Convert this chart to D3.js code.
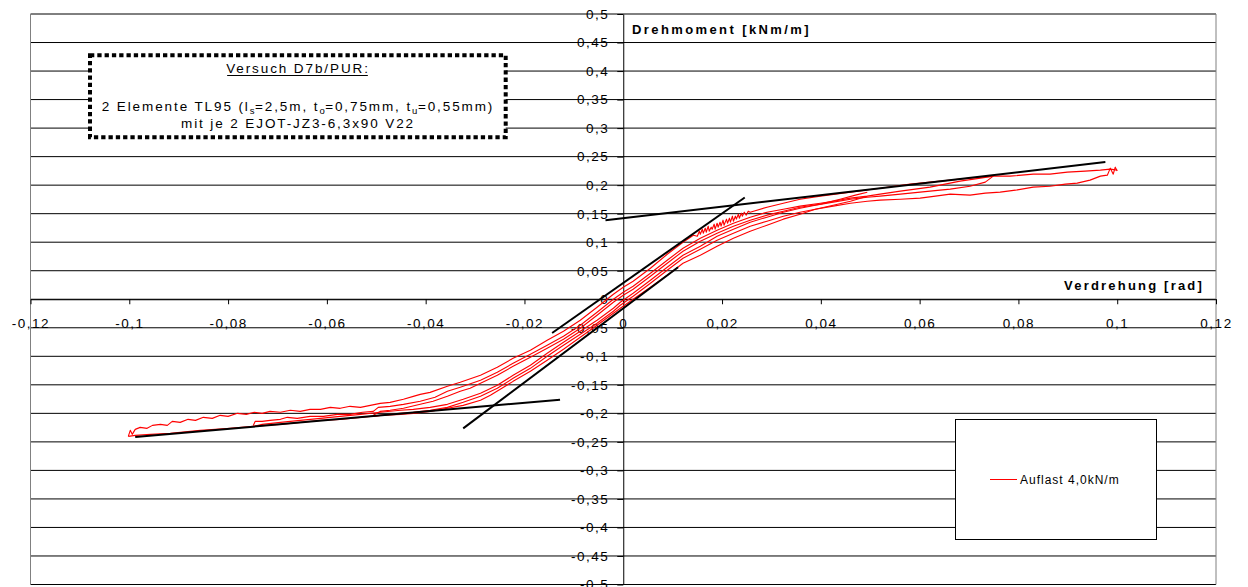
<!DOCTYPE html>
<html>
<head>
<meta charset="utf-8">
<script src="https://cdn.jsdelivr.net/npm/d3@7"></script>
<style>
  body { margin: 0; background: #fff; }
  svg { display: block; }
  text { font-family: "Liberation Sans", Arial, sans-serif; }
</style>
</head>
<body>
<svg id="chart" width="1248" height="587"></svg>
<script>
// Achsen: Verdrehung [rad] und Drehmoment [kNm/m]
const xTickValues = [-0.12, -0.1, -0.08, -0.06, -0.04, -0.02, 0, 0.02, 0.04, 0.06, 0.08, 0.1, 0.12];
const xTickLabels = ["-0,12", "-0,1", "-0,08", "-0,06", "-0,04", "-0,02", "0", "0,02", "0,04", "0,06", "0,08", "0,1", "0,12"];
const yTickValues = [0.5, 0.45, 0.4, 0.35, 0.3, 0.25, 0.2, 0.15, 0.1, 0.05, 0, -0.05, -0.1, -0.15, -0.2, -0.25, -0.3, -0.35, -0.4, -0.45, -0.5];
const yTickLabels = ["0,5", "0,45", "0,4", "0,35", "0,3", "0,25", "0,2", "0,15", "0,1", "0,05", "0", "-0,05", "-0,1", "-0,15", "-0,2", "-0,25", "-0,3", "-0,35", "-0,4", "-0,45", "-0,5"];

// Messkurven [Verdrehung, Drehmoment], Auflast 4,0 kN/m
// Wiederbelastung ab -0,1 rad bis +0,1 rad
const ast100Hin = [
  [-0.1002,-0.2404],[-0.0998,-0.2298],[-0.0994,-0.2368],[-0.0988,-0.2281],[-0.0978,-0.2246],
  [-0.0964,-0.2263],[-0.0953,-0.2211],[-0.0937,-0.2193],[-0.0923,-0.2211],[-0.0913,-0.2140],
  [-0.0897,-0.2158],[-0.0881,-0.2105],[-0.0866,-0.2123],[-0.0850,-0.2070],[-0.0832,-0.2088],
  [-0.0816,-0.2035],[-0.0800,-0.2053],[-0.0781,-0.2000],[-0.0763,-0.2018],[-0.0747,-0.1982],
  [-0.0731,-0.2000],[-0.0715,-0.1965],[-0.0694,-0.1982],[-0.0674,-0.1947],[-0.0654,-0.1965],
  [-0.0634,-0.1930],[-0.0613,-0.1930],[-0.0593,-0.1895],[-0.0573,-0.1912],[-0.0553,-0.1877],
  [-0.0532,-0.1895],[-0.0512,-0.1860],[-0.0492,-0.1825],[-0.0472,-0.1807],[-0.0445,-0.1754],
  [-0.0425,-0.1702],[-0.0411,-0.1667],[-0.0391,-0.1632],[-0.0356,-0.1526],[-0.0330,-0.1456],
  [-0.0289,-0.1333],[-0.0255,-0.1193],[-0.0223,-0.1035],[-0.0188,-0.0895],[-0.0154,-0.0719],
  [-0.0121,-0.0561],[-0.0087,-0.0368],[-0.0053,-0.0140],[-0.0020,0.0088],[0.0000,0.0211],
  [0.0020,0.0316],[0.0055,0.0544],[0.0089,0.0789],[0.0121,0.1000],[0.0142,0.1123],
  [0.0150,0.1105],[0.0154,0.1193],[0.0156,0.1140],[0.0160,0.1228],[0.0162,0.1158],
  [0.0166,0.1246],[0.0168,0.1175],[0.0172,0.1281],[0.0174,0.1193],[0.0178,0.1263],
  [0.0180,0.1228],[0.0184,0.1316],[0.0186,0.1228],[0.0190,0.1333],[0.0192,0.1263],
  [0.0196,0.1351],[0.0198,0.1281],[0.0202,0.1386],[0.0204,0.1298],[0.0209,0.1404],
  [0.0211,0.1333],[0.0215,0.1421],[0.0217,0.1351],[0.0221,0.1456],[0.0223,0.1368],
  [0.0227,0.1456],[0.0229,0.1404],[0.0233,0.1491],[0.0235,0.1421],[0.0239,0.1509],
  [0.0241,0.1456],[0.0245,0.1526],[0.0249,0.1474],[0.0253,0.1544],[0.0257,0.1526],
  [0.0291,0.1614],[0.0324,0.1684],[0.0358,0.1754],[0.0399,0.1807],[0.0460,0.1877],
  [0.0520,0.1947],[0.0581,0.2018],[0.0642,0.2070],[0.0702,0.2123],[0.0749,0.2158],
  [0.0783,0.2158],[0.0830,0.2193],[0.0864,0.2193],[0.0899,0.2228],[0.0935,0.2246],
  [0.0966,0.2263],[0.0986,0.2281],[0.1000,0.2263]
];
// Entlastung ab +0,1 rad bis -0,1 rad
const ast100Rueck = [
  [0.1000,0.2246],[0.0996,0.2316],[0.0992,0.2193],[0.0986,0.2298],[0.0980,0.2175],
  [0.0966,0.2158],[0.0945,0.2088],[0.0919,0.2035],[0.0895,0.2018],[0.0864,0.1982],
  [0.0830,0.1965],[0.0794,0.1912],[0.0763,0.1877],[0.0733,0.1860],[0.0702,0.1825],
  [0.0662,0.1842],[0.0632,0.1807],[0.0601,0.1772],[0.0561,0.1754],[0.0520,0.1737],
  [0.0494,0.1719],[0.0460,0.1684],[0.0425,0.1632],[0.0389,0.1579],[0.0358,0.1526],
  [0.0324,0.1456],[0.0291,0.1368],[0.0257,0.1281],[0.0223,0.1158],[0.0190,0.1035],
  [0.0156,0.0877],[0.0121,0.0719],[0.0089,0.0509],[0.0055,0.0281],[0.0020,0.0053],
  [-0.0006,-0.0105],[-0.0020,-0.0211],[-0.0053,-0.0421],[-0.0087,-0.0614],[-0.0121,-0.0807],
  [-0.0154,-0.1000],[-0.0188,-0.1211],[-0.0223,-0.1386],[-0.0255,-0.1561],[-0.0289,-0.1702],
  [-0.0324,-0.1807],[-0.0356,-0.1895],[-0.0391,-0.1947],[-0.0425,-0.1982],[-0.0451,-0.2000],
  [-0.0492,-0.2035],[-0.0532,-0.2070],[-0.0573,-0.2105],[-0.0613,-0.2123],[-0.0654,-0.2158],
  [-0.0694,-0.2193],[-0.0749,-0.2228],[-0.0796,-0.2263],[-0.0856,-0.2298],[-0.0917,-0.2351],
  [-0.0957,-0.2368],[-0.0988,-0.2386],[-0.1002,-0.2404]
];
// Wiederbelastung ab -0,075 rad bis +0,075 rad
const ast075Hin = [
  [-0.0749,-0.2211],[-0.0745,-0.2140],[-0.0731,-0.2140],[-0.0715,-0.2123],[-0.0694,-0.2105],
  [-0.0680,-0.2070],[-0.0660,-0.2088],[-0.0634,-0.2053],[-0.0607,-0.2053],[-0.0579,-0.2018],
  [-0.0553,-0.2018],[-0.0528,-0.1982],[-0.0506,-0.1965],[-0.0496,-0.1895],[-0.0472,-0.1877],
  [-0.0445,-0.1842],[-0.0411,-0.1789],[-0.0381,-0.1719],[-0.0356,-0.1614],[-0.0330,-0.1544],
  [-0.0289,-0.1421],[-0.0255,-0.1281],[-0.0223,-0.1123],[-0.0188,-0.0965],[-0.0154,-0.0807],
  [-0.0121,-0.0649],[-0.0087,-0.0456],[-0.0053,-0.0228],[-0.0020,0.0000],[0.0000,0.0123],
  [0.0020,0.0228],[0.0055,0.0456],[0.0089,0.0684],[0.0121,0.0895],[0.0156,0.1070],
  [0.0190,0.1211],[0.0223,0.1333],[0.0257,0.1439],[0.0291,0.1526],[0.0324,0.1579],
  [0.0358,0.1632],[0.0399,0.1684],[0.0425,0.1719],[0.0460,0.1772],[0.0494,0.1807],
  [0.0520,0.1842],[0.0561,0.1895],[0.0621,0.1965],[0.0682,0.2070],[0.0723,0.2123],
  [0.0749,0.2158]
];
// Entlastung ab +0,075 rad bis -0,075 rad
const ast075Rueck = [
  [0.0749,0.2158],[0.0733,0.2053],[0.0702,0.1982],[0.0662,0.1930],[0.0621,0.1895],
  [0.0561,0.1842],[0.0520,0.1807],[0.0494,0.1789],[0.0460,0.1754],[0.0425,0.1702],
  [0.0389,0.1649],[0.0358,0.1596],[0.0324,0.1526],[0.0291,0.1439],[0.0257,0.1351],
  [0.0223,0.1228],[0.0190,0.1105],[0.0156,0.0930],[0.0121,0.0772],[0.0089,0.0561],
  [0.0055,0.0333],[0.0020,0.0105],[-0.0006,-0.0053],[-0.0020,-0.0158],[-0.0053,-0.0368],
  [-0.0087,-0.0561],[-0.0121,-0.0754],[-0.0154,-0.0947],[-0.0188,-0.1158],[-0.0223,-0.1333],
  [-0.0255,-0.1509],[-0.0289,-0.1649],[-0.0324,-0.1754],[-0.0356,-0.1842],[-0.0391,-0.1895],
  [-0.0425,-0.1930],[-0.0451,-0.1947],[-0.0492,-0.1982],[-0.0532,-0.2018],[-0.0573,-0.2053],
  [-0.0613,-0.2088],[-0.0654,-0.2123],[-0.0694,-0.2158],[-0.0731,-0.2193],[-0.0749,-0.2228]
];
// Wiederbelastung ab -0,05 rad bis +0,05 rad
const ast050Hin = [
  [-0.0506,-0.2035],[-0.0492,-0.1965],[-0.0472,-0.1947],[-0.0445,-0.1912],[-0.0411,-0.1842],
  [-0.0385,-0.1789],[-0.0356,-0.1702],[-0.0330,-0.1614],[-0.0310,-0.1561],[-0.0289,-0.1474],
  [-0.0255,-0.1333],[-0.0223,-0.1175],[-0.0188,-0.1018],[-0.0154,-0.0860],[-0.0121,-0.0702],
  [-0.0087,-0.0509],[-0.0053,-0.0281],[-0.0020,-0.0053],[0.0000,0.0070],[0.0020,0.0175],
  [0.0055,0.0404],[0.0089,0.0632],[0.0121,0.0842],[0.0156,0.1018],[0.0190,0.1158],
  [0.0223,0.1281],[0.0257,0.1386],[0.0291,0.1474],[0.0324,0.1544],[0.0358,0.1614],
  [0.0399,0.1667],[0.0439,0.1754],[0.0470,0.1825],[0.0494,0.1877]
];
// Entlastung ab +0,05 rad bis -0,05 rad
const ast050Rueck = [
  [0.0494,0.1807],[0.0460,0.1719],[0.0425,0.1649],[0.0389,0.1579],[0.0358,0.1491],
  [0.0324,0.1404],[0.0291,0.1298],[0.0257,0.1193],[0.0223,0.1070],[0.0190,0.0930],
  [0.0156,0.0772],[0.0121,0.0632],[0.0089,0.0421],[0.0055,0.0211],[0.0020,0.0000],
  [-0.0006,-0.0158],[-0.0020,-0.0246],[-0.0053,-0.0456],[-0.0087,-0.0667],[-0.0121,-0.0877],
  [-0.0154,-0.1070],[-0.0188,-0.1263],[-0.0223,-0.1439],[-0.0249,-0.1579],[-0.0269,-0.1684],
  [-0.0289,-0.1772],[-0.0324,-0.1860],[-0.0356,-0.1912],[-0.0391,-0.1965],[-0.0425,-0.2000],
  [-0.0451,-0.2018],[-0.0492,-0.2035],[-0.0506,-0.2053]
];

// Tangenten (Steifigkeiten)
const tangenteObenFlach = [[-0.0036, 0.1386], [0.0976, 0.2404]];
const tangenteObenSteil = [[-0.0144, -0.0591], [0.0246, 0.1784]];
const tangenteUntenSteil = [[-0.0324, -0.2263], [0.0111, 0.0561]];
const tangenteUntenFlach = [[-0.0988, -0.2416], [-0.0128, -0.1760]];

const messkurven = [ast100Hin, ast100Rueck, ast075Hin, ast075Rueck, ast050Hin, ast050Rueck];
const tangenten = [tangenteObenFlach, tangenteObenSteil, tangenteUntenSteil, tangenteUntenFlach];

const svg = d3.select("#chart");
const x = d3.scaleLinear().domain([-0.12, 0.12]).range([30.5, 1216]);
const y = d3.scaleLinear().domain([-0.5, 0.5]).range([584.5, 14]);

// horizontale Gitterlinien
svg.append("g").selectAll("line").data(yTickValues).join("line")
  .attr("x1", x(-0.12)).attr("x2", x(0.12))
  .attr("y1", d => y(d)).attr("y2", d => y(d))
  .attr("stroke", "#000").attr("stroke-width", 1);

// seitliche Begrenzung der Zeichenfläche
svg.append("g").selectAll("line").data([-0.12, 0.12]).join("line")
  .attr("x1", d => x(d)).attr("x2", d => x(d))
  .attr("y1", y(0.5)).attr("y2", y(-0.5))
  .attr("stroke", "#808080").attr("stroke-width", 1);

// x-Achse durch den Nullpunkt
const xAxis = svg.append("g")
  .attr("transform", `translate(0,${y(0)})`)
  .call(d3.axisBottom(x).tickValues(xTickValues)
    .tickFormat((d, i) => xTickLabels[i]).tickSizeInner(5).tickSizeOuter(0).tickPadding(14));
// y-Achse durch den Nullpunkt
const yAxis = svg.append("g")
  .attr("transform", `translate(${x(0)},0)`)
  .call(d3.axisLeft(y).tickValues(yTickValues)
    .tickFormat((d, i) => yTickLabels[i]).tickSizeInner(6).tickSizeOuter(0).tickPadding(8));
[xAxis, yAxis].forEach(a => {
  a.attr("color", "#000");
  a.selectAll("text").attr("font-size", 13.5).attr("letter-spacing", 1.5)
    .attr("font-family", "'Liberation Sans', Arial, sans-serif");
});

// Achsentitel
svg.append("text").attr("x", 632).attr("y", 34)
  .attr("font-size", 13).attr("font-weight", "bold").attr("letter-spacing", 2.4)
  .text("Drehmoment [kNm/m]");
svg.append("text").attr("x", 1204).attr("y", 290).attr("text-anchor", "end")
  .attr("font-size", 13).attr("font-weight", "bold").attr("letter-spacing", 2.2)
  .text("Verdrehung [rad]");

const line = d3.line().x(d => x(d[0])).y(d => y(d[1]));

// Messkurven
svg.append("g").selectAll("path").data(messkurven).join("path")
  .attr("d", line).attr("fill", "none")
  .attr("stroke", "#ff0000").attr("stroke-width", 1.1).attr("stroke-linejoin", "round");

// Tangenten
svg.append("g").selectAll("path").data(tangenten).join("path")
  .attr("d", line).attr("fill", "none")
  .attr("stroke", "#000").attr("stroke-width", 2);

// Versuchsbeschreibung
const info = svg.append("g");
info.append("rect").attr("x", 90).attr("y", 55.3).attr("width", 415.7).attr("height", 82)
  .attr("fill", "#fff").attr("stroke", "#000").attr("stroke-width", 4)
  .attr("stroke-dasharray", "4.3,3");
const cx = 298;
const titel = info.append("text").attr("x", cx).attr("y", 73).attr("text-anchor", "middle")
  .attr("font-size", 13.5).attr("letter-spacing", 1.9).text("Versuch D7b/PUR:");
const tb = titel.node().getBBox();
info.append("line").attr("x1", tb.x + 1).attr("x2", tb.x + tb.width - 2)
  .attr("y1", 75.5).attr("y2", 75.5).attr("stroke", "#000").attr("stroke-width", 1);

const z2 = info.append("text").attr("x", cx).attr("y", 111).attr("text-anchor", "middle")
  .attr("font-size", 13.5).attr("letter-spacing", 1.9);
const teile = [
  ["2 Elemente TL95 (l", false], ["s", true], ["=2,5m, t", false], ["o", true],
  ["=0,75mm, t", false], ["u", true], ["=0,55mm)", false]
];
teile.forEach(([t, sub]) => {
  z2.append("tspan").attr("font-size", sub ? 9.5 : 13.5)
    .attr("baseline-shift", sub ? "-3" : null).attr("letter-spacing", sub ? 0.5 : 1.9).text(t);
});
info.append("text").attr("x", cx).attr("y", 127.5).attr("text-anchor", "middle")
  .attr("font-size", 13.5).attr("letter-spacing", 1.9).text("mit je 2 EJOT-JZ3-6,3x90 V22");

// Legende
const leg = svg.append("g");
leg.append("rect").attr("x", 955.5).attr("y", 419.5).attr("width", 201).attr("height", 120)
  .attr("fill", "#fff").attr("stroke", "#000").attr("stroke-width", 1);
leg.append("line").attr("x1", 990).attr("x2", 1017).attr("y1", 479.5).attr("y2", 479.5)
  .attr("stroke", "#ff0000").attr("stroke-width", 1);
leg.append("text").attr("x", 1020).attr("y", 483.5).attr("font-size", 12)
  .attr("letter-spacing", 1).text("Auflast 4,0kN/m");
</script>
</body>
</html>
